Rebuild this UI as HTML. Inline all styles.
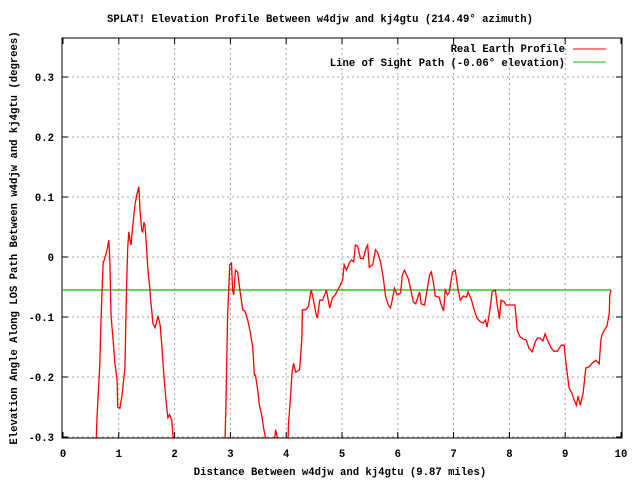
<!DOCTYPE html>
<html><head><meta charset="utf-8"><style>
body{margin:0;background:#fff;}
svg text{font-family:"Liberation Mono",monospace;font-size:10.6px;font-weight:bold;fill:#000;}
</style></head><body>
<svg width="640" height="480" viewBox="0 0 640 480">
<defs><clipPath id="pc"><rect x="62" y="38" width="560" height="399.5"/></clipPath></defs>
<rect x="0" y="0" width="640" height="480" fill="#fff"/>
<g id="grid"></g>
<g id="axes"></g>
<g id="series" clip-path="url(#pc)"></g>
<rect x="62" y="38" width="560" height="400" fill="none" stroke="#000" stroke-width="1"/>
<text x="320" y="22" text-anchor="middle">SPLAT! Elevation Profile Between w4djw and kj4gtu (214.49° azimuth)</text>
<text x="340" y="475" text-anchor="middle">Distance Between w4djw and kj4gtu (9.87 miles)</text>
<text transform="translate(17,238) rotate(-90)" text-anchor="middle">Elevation Angle Along LOS Path Between w4djw and kj4gtu (degrees)</text>
<g>
<text x="565" y="52" text-anchor="end">Real Earth Profile</text>
<line x1="573" y1="49" x2="606" y2="49" stroke="#ff0000"/>
<text x="565" y="66" text-anchor="end">Line of Sight Path (-0.06° elevation)</text>
<line x1="573" y1="62" x2="606" y2="62" stroke="#00c000"/>
</g>
</svg>
<script>
const xTicks=[0,1,2,3,4,5,6,7,8,9,10];
const yTicks=[0.3,0.2,0.1,0,-0.1,-0.2,-0.3];
const yTickLabels=["0.3","0.2","0.1","0","-0.1","-0.2","-0.3"];
const losValue=-0.055;
const distances=[0.59,0.61,0.63,0.66,0.68,0.70,0.72,0.73,0.79,0.82,0.84,0.86,0.89,0.93,0.97,0.98,1.02,1.06,1.11,1.14,1.16,1.18,1.20,1.22,1.23,1.27,1.29,1.32,1.36,1.38,1.41,1.43,1.45,1.47,1.50,1.52,1.54,1.56,1.57,1.59,1.61,1.65,1.68,1.70,1.74,1.77,1.81,1.84,1.86,1.88,1.91,1.95,1.97,1.99,
2.5,
2.90,2.92,2.93,2.95,2.97,2.99,3.02,3.04,3.06,3.09,3.13,3.17,3.22,3.26,3.31,3.35,3.40,3.43,3.45,3.49,3.52,3.56,3.60,3.63,3.67,3.79,3.81,3.85,3.88,4.03,4.04,4.08,4.10,4.13,4.17,4.24,4.28,4.29,4.35,4.40,4.44,4.45,4.49,4.54,4.56,4.60,4.65,4.71,4.72,4.78,4.83,4.88,4.94,4.97,5.01,5.04,5.08,5.13,5.17,5.21,5.24,5.28,5.33,5.38,5.44,5.46,5.49,5.55,5.60,5.64,5.69,5.74,5.78,5.83,5.87,5.90,5.94,5.99,6.05,6.08,6.12,6.19,6.23,6.28,6.32,6.39,6.42,6.48,6.51,6.57,6.60,6.64,6.67,6.74,6.78,6.82,6.85,6.89,6.92,6.98,7.03,7.08,7.12,7.17,7.23,7.26,7.32,7.37,7.42,7.48,7.53,7.57,7.60,7.66,7.69,7.75,7.78,7.82,7.85,7.91,7.94,8.10,8.14,8.19,8.25,8.30,8.35,8.41,8.46,8.50,8.55,8.60,8.64,8.68,8.75,8.80,8.86,8.93,8.98,9.02,9.07,9.12,9.16,9.20,9.23,9.27,9.32,9.37,9.43,9.48,9.55,9.61,9.64,9.66,9.70,9.75,9.79,9.80,9.82];
const elevations=[-0.32,-0.268,-0.23,-0.18,-0.11,-0.055,-0.008,-0.008,0.012,0.028,-0.008,-0.097,-0.13,-0.177,-0.205,-0.25,-0.252,-0.23,-0.185,-0.047,0.015,0.042,0.028,0.02,0.032,0.07,0.087,0.103,0.117,0.078,0.045,0.042,0.058,0.053,0.012,-0.018,-0.038,-0.055,-0.072,-0.088,-0.11,-0.118,-0.108,-0.098,-0.113,-0.147,-0.2,-0.233,-0.252,-0.268,-0.263,-0.272,-0.298,-0.32,
null,
-0.32,-0.247,-0.197,-0.097,-0.055,-0.013,-0.01,-0.055,-0.063,-0.022,-0.025,-0.055,-0.088,-0.09,-0.105,-0.122,-0.15,-0.197,-0.197,-0.222,-0.247,-0.263,-0.288,-0.302,-0.305,-0.305,-0.288,-0.305,-0.32,-0.32,-0.28,-0.23,-0.197,-0.177,-0.192,-0.188,-0.138,-0.088,-0.088,-0.082,-0.058,-0.055,-0.072,-0.097,-0.102,-0.072,-0.072,-0.058,-0.055,-0.085,-0.068,-0.063,-0.052,-0.047,-0.038,-0.013,-0.022,-0.01,-0.005,-0.008,0.02,0.018,-0.002,-0.003,0.017,0.02,-0.017,-0.013,0.012,0.007,-0.008,-0.035,-0.065,-0.08,-0.085,-0.072,-0.052,-0.063,-0.06,-0.03,-0.022,-0.037,-0.053,-0.075,-0.078,-0.058,-0.078,-0.08,-0.063,-0.03,-0.025,-0.043,-0.065,-0.067,-0.08,-0.09,-0.055,-0.063,-0.06,-0.025,-0.022,-0.055,-0.072,-0.065,-0.067,-0.058,-0.072,-0.088,-0.102,-0.108,-0.11,-0.105,-0.117,-0.083,-0.058,-0.055,-0.078,-0.103,-0.072,-0.075,-0.08,-0.08,-0.122,-0.133,-0.137,-0.138,-0.152,-0.158,-0.142,-0.135,-0.135,-0.14,-0.128,-0.138,-0.152,-0.157,-0.157,-0.147,-0.147,-0.182,-0.218,-0.227,-0.238,-0.247,-0.232,-0.247,-0.227,-0.185,-0.183,-0.177,-0.172,-0.178,-0.138,-0.13,-0.122,-0.115,-0.093,-0.063,-0.055];
const L=62,R=622,T=38,B=438,X0=0,X1=10;
function xs(v){return 63+(v-X0)*(621-63)/(X1-X0);}
function ys(v){return 257-v*600;}
const NS="http://www.w3.org/2000/svg";
const grid=document.getElementById('grid'),axes=document.getElementById('axes'),series=document.getElementById('series');
function mk(tag,attrs,parent){const e=document.createElementNS(NS,tag);for(const k in attrs)e.setAttribute(k,attrs[k]);parent.appendChild(e);return e;}
xTicks.forEach(function(t){
  const x=xs(t);
  if(t>X0&&t<X1){const g=mk('line',{x1:x,y1:T,x2:x,y2:B,stroke:'#a0a0a0','stroke-dasharray':'2,3'},grid);
  
  }
  const a=mk('line',{x1:x,y1:B,x2:x,y2:B-6,stroke:'#000'},axes);
  
  
  const b=mk('line',{x1:x,y1:T,x2:x,y2:T+6,stroke:'#000'},axes);
  
  
  const tx=mk('text',{x:x,y:457,'text-anchor':'middle'},axes);tx.textContent=String(t);
  
  
});
yTicks.forEach(function(t,i){
  const y=ys(t);
  const g=mk('line',{x1:L,y1:y,x2:R,y2:y,stroke:'#a0a0a0','stroke-dasharray':'2,3'},grid);
  
  
  const a=mk('line',{x1:L,y1:y,x2:L+6,y2:y,stroke:'#000'},axes);
  
  
  const b=mk('line',{x1:R,y1:y,x2:R-6,y2:y,stroke:'#000'},axes);
  
  
  const tx=mk('text',{x:54,y:y+4,'text-anchor':'end'},axes);tx.textContent=yTickLabels[i];
  
  
});
let d='',pen=false;
for(let i=0;i<distances.length;i++){
  const v=elevations[i];
  if(v===null){pen=false;continue;}
  d+=(pen?'L':'M')+xs(distances[i]).toFixed(1)+' '+ys(v).toFixed(1)+' ';pen=true;
}
const los=mk('line',{x1:xs(0),y1:ys(losValue),x2:xs(distances[distances.length-1]),y2:ys(losValue),stroke:'#00c000','stroke-width':1.3},series);


const p=mk('path',{d:d,fill:'none',stroke:'#ff0000','stroke-width':1.3,'stroke-linejoin':'miter'},series);


</script>
</body></html>
